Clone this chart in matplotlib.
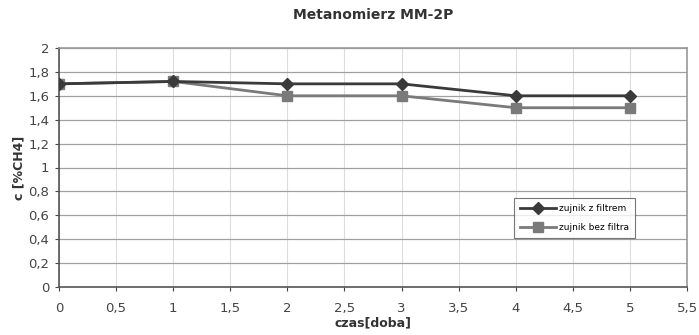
import numpy as np
import matplotlib.pyplot as plt

# Data
days = [0, 1, 2, 3, 4, 5]
z_filtrem = [1.70, 1.72, 1.70, 1.70, 1.60, 1.60]
bez_filtra = [1.70, 1.72, 1.60, 1.60, 1.50, 1.50]
x_ticks = [0, 0.5, 1, 1.5, 2, 2.5, 3, 3.5, 4, 4.5, 5, 5.5]
y_ticks = [0, 0.2, 0.4, 0.6, 0.8, 1, 1.2, 1.4, 1.6, 1.8, 2]

def pl(v):
    # Polish decimal comma
    return f"{v:g}".replace('.', ',')

fig = plt.figure(figsize=(6.99, 3.35), dpi=100)
ax = fig.add_axes([59/699, 48/335, 628/699, 239/335])

ax.plot(days, z_filtrem, color='#3a3a3a', lw=2.0, marker='D', ms=6,
        label='zujnik z filtrem', zorder=3)
ax.plot(days, bez_filtra, color='#7a7a7a', lw=2.0, marker='s', ms=7,
        label='zujnik bez filtra', zorder=2)

ax.set_xlim(0, 5.5)
ax.set_ylim(0, 2)
ax.set_xticks(x_ticks)
ax.set_xticklabels([pl(v) for v in x_ticks])
ax.set_yticks(y_ticks)
ax.set_yticklabels([pl(v) for v in y_ticks])
ax.tick_params(labelsize=9.5, colors='#444444', length=3, pad=8)
ax.tick_params(axis='y', pad=4)

ax.yaxis.grid(True, color='#a0a0a0', lw=0.9)
ax.xaxis.grid(True, color='#dddddd', lw=0.8)
ax.set_axisbelow(True)
for s in ax.spines.values():
    s.set_color('#555555')
    s.set_linewidth(1.2)
ax.spines['top'].set_color('#999999')
ax.spines['right'].set_color('#999999')

fig.text(0.5 * (59 + 687) / 699, 1 - 15 / 335, 'Metanomierz MM-2P', fontsize=10,
         fontweight='bold', color='#333333', ha='center', va='center')
ax.set_xlabel('czas[doba]', fontsize=9, fontweight='bold', color='#333333', labelpad=1)
ax.set_ylabel('c [%CH4]', fontsize=9, fontweight='bold', color='#333333', labelpad=2)

leg = ax.legend(loc='lower right', bbox_to_anchor=(0.925, 0.185), fontsize=6.5,
                frameon=True, fancybox=False, edgecolor='#555555',
                handlelength=4, borderpad=0.7, labelspacing=1.1, handletextpad=0.3)
leg.get_frame().set_linewidth(0.8)

fig.savefig('out.png', dpi=100)
